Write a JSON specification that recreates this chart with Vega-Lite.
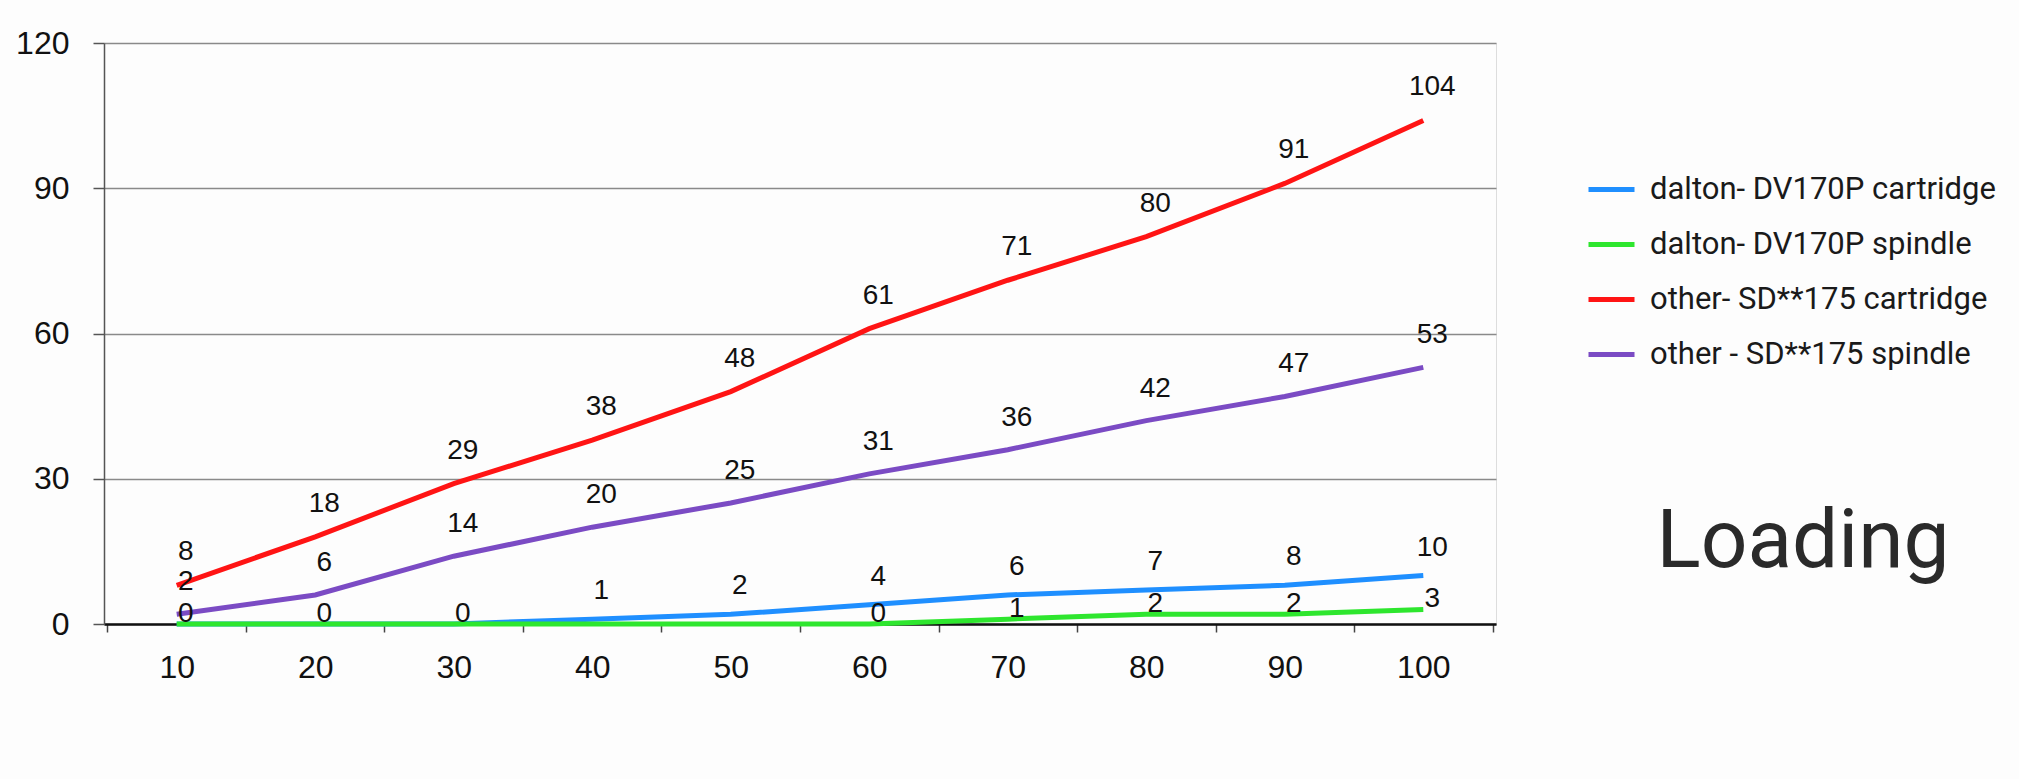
{
  "$schema": "https://vega.github.io/schema/vega-lite/v6.json",
  "autosize": "none",
  "padding": {"left": 104, "top": 43, "right": 523, "bottom": 155},
  "width": 1392,
  "height": 581,
  "background": "#fdfdfd",
  "title": {
    "text": "Loading",
    "frame": "group",
    "anchor": "middle",
    "orient": "top",
    "baseline": "alphabetic",
    "font": "Roboto",
    "fontSize": 82,
    "fontWeight": "normal",
    "color": "#2a2a2a",
    "offset": 0,
    "dx": 1003,
    "dy": 622
  },
  "data": {
    "values": [
      {"length": 10, "series": "dalton- DV170P cartridge", "count": 0},
      {"length": 20, "series": "dalton- DV170P cartridge", "count": 0},
      {"length": 30, "series": "dalton- DV170P cartridge", "count": 0},
      {"length": 40, "series": "dalton- DV170P cartridge", "count": 1},
      {"length": 50, "series": "dalton- DV170P cartridge", "count": 2},
      {"length": 60, "series": "dalton- DV170P cartridge", "count": 4},
      {"length": 70, "series": "dalton- DV170P cartridge", "count": 6},
      {"length": 80, "series": "dalton- DV170P cartridge", "count": 7},
      {"length": 90, "series": "dalton- DV170P cartridge", "count": 8},
      {"length": 100, "series": "dalton- DV170P cartridge", "count": 10},
      {"length": 10, "series": "dalton- DV170P spindle", "count": 0},
      {"length": 20, "series": "dalton- DV170P spindle", "count": 0},
      {"length": 30, "series": "dalton- DV170P spindle", "count": 0},
      {"length": 40, "series": "dalton- DV170P spindle", "count": 0},
      {"length": 50, "series": "dalton- DV170P spindle", "count": 0},
      {"length": 60, "series": "dalton- DV170P spindle", "count": 0},
      {"length": 70, "series": "dalton- DV170P spindle", "count": 1},
      {"length": 80, "series": "dalton- DV170P spindle", "count": 2},
      {"length": 90, "series": "dalton- DV170P spindle", "count": 2},
      {"length": 100, "series": "dalton- DV170P spindle", "count": 3},
      {"length": 10, "series": "other- SD**175 cartridge", "count": 8},
      {"length": 20, "series": "other- SD**175 cartridge", "count": 18},
      {"length": 30, "series": "other- SD**175 cartridge", "count": 29},
      {"length": 40, "series": "other- SD**175 cartridge", "count": 38},
      {"length": 50, "series": "other- SD**175 cartridge", "count": 48},
      {"length": 60, "series": "other- SD**175 cartridge", "count": 61},
      {"length": 70, "series": "other- SD**175 cartridge", "count": 71},
      {"length": 80, "series": "other- SD**175 cartridge", "count": 80},
      {"length": 90, "series": "other- SD**175 cartridge", "count": 91},
      {"length": 100, "series": "other- SD**175 cartridge", "count": 104},
      {"length": 10, "series": "other - SD**175 spindle", "count": 2},
      {"length": 20, "series": "other - SD**175 spindle", "count": 6},
      {"length": 30, "series": "other - SD**175 spindle", "count": 14},
      {"length": 40, "series": "other - SD**175 spindle", "count": 20},
      {"length": 50, "series": "other - SD**175 spindle", "count": 25},
      {"length": 60, "series": "other - SD**175 spindle", "count": 31},
      {"length": 70, "series": "other - SD**175 spindle", "count": 36},
      {"length": 80, "series": "other - SD**175 spindle", "count": 42},
      {"length": 90, "series": "other - SD**175 spindle", "count": 47},
      {"length": 100, "series": "other - SD**175 spindle", "count": 53}
    ]
  },
  "encoding": {
    "x": {
      "field": "length",
      "type": "ordinal",
      "bandPosition": 0.5,
      "scale": {"type": "band", "paddingInner": 0, "paddingOuter": 0.025},
      "axis": {
        "title": null,
        "labelAngle": 0,
        "labelFont": "Liberation Sans",
        "labelFontSize": 32,
        "labelColor": "#111",
        "labelPadding": 20,
        "tickBand": "extent",
        "tickSize": 8,
        "tickColor": "#444",
        "tickWidth": 1.5,
        "domainColor": "#111",
        "domainWidth": 2.5,
        "grid": false
      }
    },
    "y": {
      "field": "count",
      "type": "quantitative",
      "scale": {"domain": [0, 120], "nice": false},
      "axis": {
        "title": null,
        "values": [0, 30, 60, 90, 120],
        "labelFont": "Liberation Sans",
        "labelFontSize": 32,
        "labelColor": "#111",
        "labelPadding": 24,
        "tickSize": 11,
        "tickColor": "#555",
        "tickWidth": 1.5,
        "domainColor": "#555",
        "domainWidth": 1.5,
        "grid": true,
        "gridColor": "#8a8a8a",
        "gridWidth": 1.5
      }
    },
    "color": {
      "field": "series",
      "type": "nominal",
      "scale": {
        "domain": ["dalton- DV170P cartridge", "dalton- DV170P spindle", "other- SD**175 cartridge", "other - SD**175 spindle"],
        "range": ["#1f8fff", "#2ee62e", "#ff1414", "#7b4bc4"]
      },
      "legend": {
        "title": null,
        "orient": "none",
        "legendX": 1482,
        "legendY": 121,
        "padding": 0,
        "symbolType": "stroke",
        "symbolSize": 2116,
        "symbolStrokeWidth": 5,
        "labelFont": "Roboto",
        "labelFontSize": 31,
        "labelColor": "#1a1a1a",
        "labelLimit": 600,
        "labelOffset": 13,
        "rowPadding": 14
      }
    }
  },
  "layer": [
    {
      "mark": {"type": "line", "strokeWidth": 5}
    },
    {
      "transform": [{"filter": "datum.series == 'other- SD**175 cartridge'"}],
      "mark": {"type": "text", "font": "Liberation Sans", "fontSize": 28, "color": "#111", "dx": 9, "dy": -33, "baseline": "middle"},
      "encoding": {
        "text": {"field": "count", "type": "quantitative"},
        "color": {"value": "#111"}
      }
    },
    {
      "transform": [{"filter": "datum.series == 'other - SD**175 spindle'"}],
      "mark": {"type": "text", "font": "Liberation Sans", "fontSize": 28, "color": "#111", "dx": 9, "dy": -32, "baseline": "middle"},
      "encoding": {
        "text": {"field": "count", "type": "quantitative"},
        "color": {"value": "#111"}
      }
    },
    {
      "transform": [{"filter": "datum.series == 'dalton- DV170P cartridge' && datum.length >= 40"}],
      "mark": {"type": "text", "font": "Liberation Sans", "fontSize": 28, "color": "#111", "dx": 9, "dy": -28, "baseline": "middle"},
      "encoding": {
        "text": {"field": "count", "type": "quantitative"},
        "color": {"value": "#111"}
      }
    },
    {
      "transform": [{"filter": "datum.series == 'dalton- DV170P spindle' && (datum.length <= 30 || datum.length >= 60)"}],
      "mark": {"type": "text", "font": "Liberation Sans", "fontSize": 28, "color": "#111", "dx": 9, "dy": -10, "baseline": "middle"},
      "encoding": {
        "text": {"field": "count", "type": "quantitative"},
        "color": {"value": "#111"}
      }
    }
  ]
}
